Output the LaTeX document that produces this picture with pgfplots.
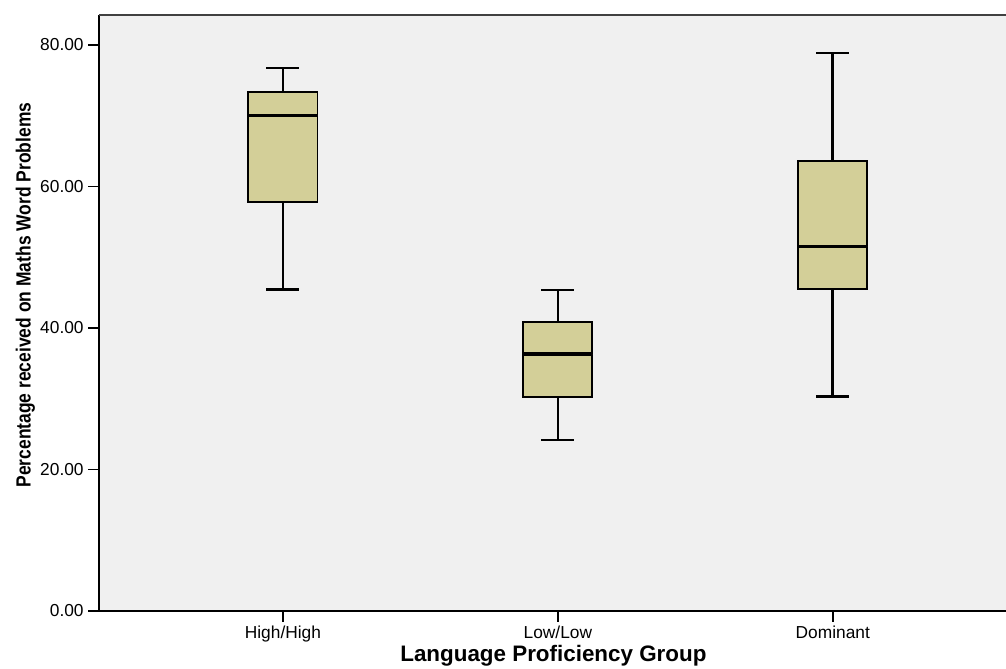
\documentclass[border=0pt]{standalone}
\usepackage{graphicx}
\usepackage{pgfplots}
\pgfplotsset{compat=1.18}
\usepgfplotslibrary{statistics}
\usepackage{fontspec}
\setmainfont{Liberation Sans}
\definecolor{boxfill}{HTML}{D3CF98}
\definecolor{bgfill}{HTML}{F0F0F0}

\pgfplotsset{
  boxplot/every box/.style={line width=1.4pt},
  boxplot/every whisker/.style={line width=2.0pt},
  boxplot/every median/.style={line width=2.3pt},
}

\begin{document}
\begin{tikzpicture}
\begin{axis}[
    name=ax,
    scale only axis,
    width=680.25pt,
    height=447pt,
    xmin=0.331, xmax=3.63,
    ymin=0, ymax=84.24,
    axis lines*=left,
    axis line style={line width=1.4pt, black},
    axis background/.style={fill=bgfill},
    xtick={1,2,3},
    xticklabels={High/High, Low/Low, Dominant},
    ytick={0,20,40,60,80},
    tick align=outside,
    major tick length=8pt,
    tick style={line width=1.4pt, black},
    ticklabel style={font=\fontsize{13}{15}\selectfont},
    yticklabel style={
        /pgf/number format/fixed,
        /pgf/number format/fixed zerofill,
        /pgf/number format/precision=2,
        /pgf/number format/assume math mode=true
    },
    xlabel={Language Proficiency Group},
    xlabel style={font=\fontsize{16.8}{18}\selectfont\bfseries,
        at={(axis description cs:0.501,-0.0851)}, anchor=base},
    ylabel={\scalebox{0.85}[1]{Percentage received on Maths Word Problems}},
    ylabel style={font=\fontsize{15.4}{17}\selectfont\bfseries,
        at={(axis description cs:-0.0753,0.530)}, anchor=base},
    boxplot/draw direction=y,
]
% High/High
\addplot+[draw=black, fill=boxfill, mark=none, solid,
    boxplot prepared={draw position=1,
        lower whisker=45.41, lower quartile=57.76, median=70.0,
        upper quartile=73.36, upper whisker=76.75,
        box extend=0.251, whisker extend=0.12}]
    table[row sep=\\, y index=0] {y\\};
% Low/Low
\addplot+[draw=black, fill=boxfill, mark=none, solid,
    boxplot prepared={draw position=2,
        lower whisker=24.17, lower quartile=30.29, median=36.32,
        upper quartile=40.89, upper whisker=45.37,
        box extend=0.251, whisker extend=0.12}]
    table[row sep=\\, y index=0] {y\\};
% Dominant
\addplot+[draw=black, fill=boxfill, mark=none, solid,
    boxplot prepared={draw position=3,
        lower whisker=30.29, lower quartile=45.5, median=51.55,
        upper quartile=63.6, upper whisker=78.87,
        box extend=0.251, whisker extend=0.12}]
    table[row sep=\\, y index=0] {y\\};
\draw[black!75, line width=1.2pt] (rel axis cs:0,1) -- (rel axis cs:1,1);
\end{axis}
\pgfresetboundingbox
\useasboundingbox ([xshift=-74.25pt,yshift=-43.5pt]ax.south west)
    rectangle ([yshift=11.25pt]ax.north east);
\end{tikzpicture}
\end{document}
